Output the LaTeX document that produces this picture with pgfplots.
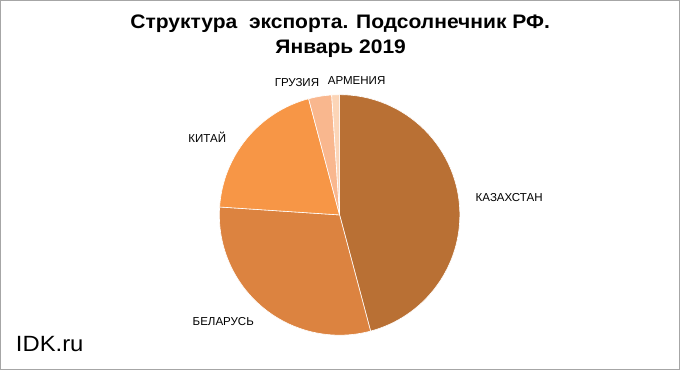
\documentclass[border=0pt]{standalone}
\usepackage{pgfplots}
\pgfplotsset{compat=1.18}
\usepackage{fontspec}
\setmainfont{Liberation Sans}
\definecolor{kaz}{HTML}{B97034}
\definecolor{bel}{HTML}{DC8340}
\definecolor{chn}{HTML}{F79646}
\definecolor{geo}{HTML}{F9B78E}
\definecolor{arm}{HTML}{FCD5B7}
\definecolor{frame}{HTML}{A6A6A6}
\begin{document}
\begin{tikzpicture}
\begin{axis}[
  x=1bp, y=1bp,
  xmin=0, xmax=680, ymin=0, ymax=374,
  hide axis, clip=false,
]
% pie: shares in percent, clockwise from top
\gdef\cum{90}
\foreach \v/\c in {45.85/kaz, 30.2/bel, 19.8/chn, 3.1/geo, 1.05/arm} {
  \pgfmathsetmacro\s{\cum}
  \pgfmathsetmacro\e{\cum-3.6*\v}
  \edef\temp{\noexpand\fill[\c, draw=white, line width=0.6pt] (axis cs:339.1,158.8) -- ++(\s:119.5bp) arc[start angle=\s, end angle=\e, radius=119.5bp] -- cycle;}
  \temp
  \xdef\cum{\e}
}
\draw[frame, line width=0.8pt] (axis cs:2,5) rectangle (axis cs:677,372);
\node[font=\fontsize{19.5}{23}\selectfont\bfseries, xscale=1.075] at (axis cs:339.6,349) {Структура~~экспорта. Подсолнечник РФ.};
\node[font=\fontsize{19.5}{23}\selectfont\bfseries, xscale=1.075] at (axis cs:340.2,324) {Январь 2019};
\node[font=\fontsize{11.5}{13}\selectfont] at (axis cs:507.6,176.3) {КАЗАХСТАН};
\node[font=\fontsize{11.5}{13}\selectfont] at (axis cs:223.5,53.3) {БЕЛАРУСЬ};
\node[font=\fontsize{11.5}{13}\selectfont] at (axis cs:207.6,235.7) {КИТАЙ};
\node[font=\fontsize{11.5}{13}\selectfont] at (axis cs:296.7,290) {ГРУЗИЯ};
\node[font=\fontsize{11.5}{13}\selectfont] at (axis cs:356,292.7) {АРМЕНИЯ};
\node[font=\fontsize{22}{26}\selectfont, xscale=1.08] at (axis cs:51,30.7) {IDK.ru};
\end{axis}
\end{tikzpicture}
\end{document}
